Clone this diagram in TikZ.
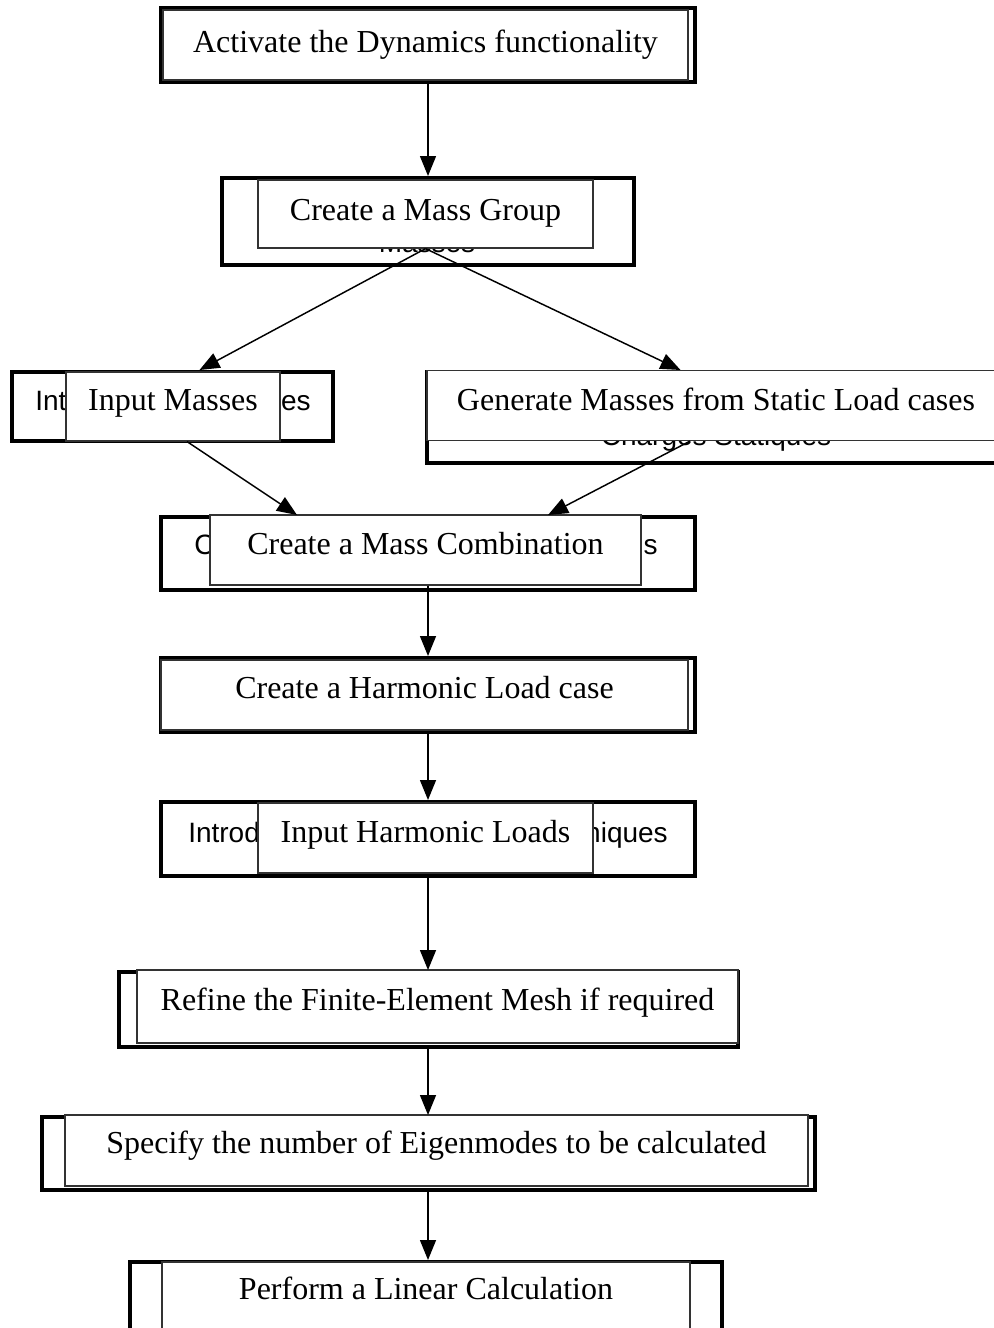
\documentclass[tikz,border=0pt]{standalone}
\usepackage{fontspec}
\setmainfont{Liberation Serif}
\setsansfont{Liberation Sans}
\usetikzlibrary{arrows.meta,positioning,calc}

\tikzset{
  sz/.style 2 args={minimum width=#1*0.75pt, minimum height=#2*0.75pt},
  outerbox/.style={draw, line width=3pt, inner sep=0pt},
  innerbox/.style={draw=black!80, line width=0.9pt, fill=white, inner sep=0pt,
    font=\fontsize{24}{28}\selectfont, text height=17pt, text depth=11pt},
  frag/.style={inner sep=0pt, font=\sffamily\fontsize{21}{25}\selectfont},
  flow/.style={line width=1.1pt, -{Triangle[width=12pt,length=15pt]}}
}

\begin{document}
\begin{tikzpicture}[x=0.75pt,y=-0.75pt]
\useasboundingbox (0,0) rectangle (993,1328);

% outer frames
\node[outerbox, sz={534}{74}] (actO) at (428,45) {};
\node[outerbox, sz={412}{87}] (grpO) at (428,221.5) {};
\node[outerbox, sz={321}{69}] (inpO) at (172.5,406.5) {};
\node[outerbox, sz={583}{91}] (genO) at (718.5,417.5) {};
\node[outerbox, sz={534}{73}] (combO) at (428,553.5) {};
\node[outerbox, sz={534}{74}] (harmO) at (428,695) {};
\node[outerbox, sz={534}{74}] (hlO) at (428,839) {};
\node[outerbox, sz={619}{75}] (refO) at (428.5,1009.5) {};
\node[outerbox, sz={773}{73}] (specO) at (428.5,1153.5) {};
\node[outerbox, sz={592}{78}] (perfO) at (426,1301) {};

% text left over behind the boxes
\node[frag, anchor=base] (grpT) at (427,252) {Masses};
\node[frag, anchor=base west] (inpL) at (35,410) {Int};
\node[frag, anchor=base east] (inpR) at (311,410) {es};
\node[frag, anchor=base] (genT) at (716,445) {Charges Statiques};
\node[frag, anchor=base west] (combL) at (194,554) {C};
\node[frag, anchor=base east] (combR) at (658,554) {s};
\node[frag, anchor=base west] (hlL) at (188,842) {Introd};
\node[frag, anchor=base east] (hlR) at (668,842) {niques};

% steps
\node[innerbox, sz={525}{70}, text depth=6pt] (actI) at (425.5,45) {Activate the Dynamics functionality};
\node[innerbox, sz={335}{68}, text depth=7.5pt] (grpI) at (425.5,214) {Create a Mass Group};
\node[innerbox, sz={214}{69}] (inpI) at (173,406.5) {Input Masses};
\node[innerbox, sz={578}{70}, text depth=9pt] (genI) at (716,405.5) {Generate Masses from Static Load cases};
\node[innerbox, sz={431}{70}] (combI) at (425.5,550) {Create a Mass Combination};
\node[innerbox, sz={527}{70}, text depth=12pt] (harmI) at (424.5,695) {Create a Harmonic Load case};
\node[innerbox, sz={335}{70}] (hlI) at (425.5,838) {Input Harmonic Loads};
\node[innerbox, sz={601}{73}] (refI) at (437.5,1006.5) {Refine the Finite-Element Mesh if required};
\node[innerbox, sz={743}{71}, text depth=13pt] (specI) at (436.5,1150.5) {Specify the number of Eigenmodes to be calculated};
\node[innerbox, sz={528}{78}, text depth=19.5pt] (perfI) at (426,1301) {Perform a Linear Calculation};

% connectors
\draw[flow] (actO.south) -- (actO.south |- grpO.north);
\draw[flow] (grpI.south) -- ($(inpO.north)+(27,0)$);
\draw[flow] (grpI.south) -- ($(genO.north)+(-38,0)$);
\draw[flow] ($(inpI.south)+(14,0)$) -- ($(combO.north)+(-131,0)$);
\draw[flow] ($(genI.south)+(-26,0)$) -- ($(combO.north)+(120,0)$);
\draw[flow] (combO.south |- combI.south) -- (combO.south |- harmO.north);
\draw[flow] (harmO.south) -- (harmO.south |- hlO.north);
\draw[flow] (hlO.south) -- (hlO.south |- refO.north);
\draw[flow] (hlO.south |- refO.south) -- (hlO.south |- specO.north);
\draw[flow] (hlO.south |- specO.south) -- (hlO.south |- perfO.north);
\end{tikzpicture}
\end{document}
